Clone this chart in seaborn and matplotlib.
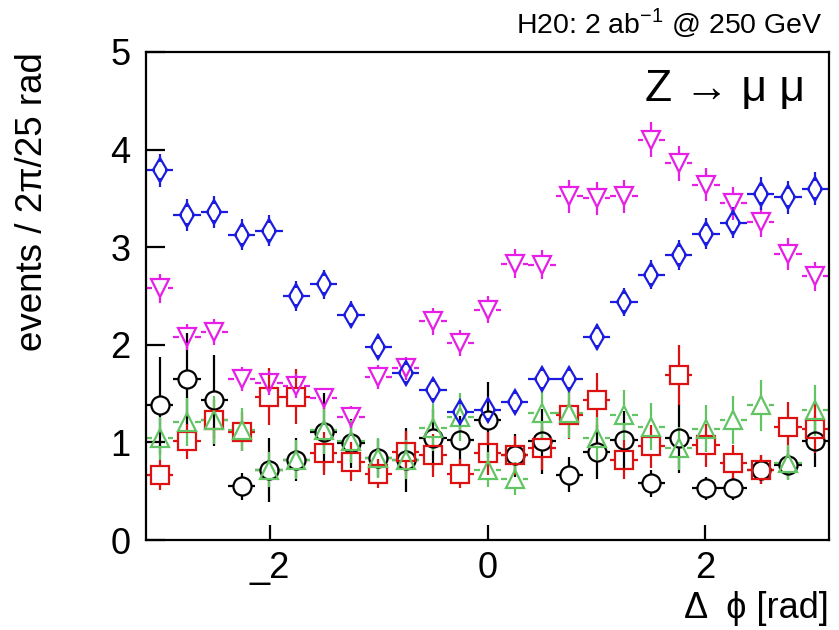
import numpy as np
import matplotlib
matplotlib.use("Agg")
import matplotlib.pyplot as plt
import seaborn as sns

# ---------------- data ----------------
n_bins = 25
x_lo, x_hi = -np.pi, np.pi

blue_val = [3.79, 3.33, 3.36, 3.13, 3.17, 2.50, 2.62, 2.31, 1.98, 1.71, 1.54, 1.31, 1.33,
            1.41, 1.65, 1.65, 2.08, 2.44, 2.72, 2.92, 3.14, 3.25, 3.55, 3.51, 3.60]
blue_err = [0.17, 0.16, 0.16, 0.16, 0.16, 0.15, 0.15, 0.14, 0.13, 0.12, 0.12, 0.11, 0.11,
            0.11, 0.12, 0.12, 0.13, 0.14, 0.15, 0.15, 0.16, 0.16, 0.17, 0.17, 0.17]

mag_val = [2.58, 2.08, 2.13, 1.65, 1.61, 1.58, 1.45, 1.26, 1.67, 1.76, 2.24, 2.02, 2.36,
           2.83, 2.82, 3.52, 3.50, 3.52, 4.10, 3.86, 3.64, 3.45, 3.26, 2.93, 2.70]
mag_err = [0.15, 0.13, 0.13, 0.12, 0.12, 0.12, 0.11, 0.11, 0.12, 0.12, 0.14, 0.13, 0.14,
           0.15, 0.15, 0.17, 0.17, 0.17, 0.18, 0.18, 0.17, 0.17, 0.16, 0.16, 0.15]

black_val = [1.38, 1.65, 1.43, 0.55, 0.72, 0.82, 1.11, 0.99, 0.84, 0.82, 1.04, 1.02, 1.23,
             0.87, 1.01, 0.67, 0.90, 1.02, 0.58, 1.04, 0.53, 0.53, 0.72, 0.77, 1.01]
black_err = [0.50, 0.47, 0.47, 0.14, 0.33, 0.22, 0.40, 0.25, 0.19, 0.33, 0.30, 0.25, 0.39,
             0.22, 0.33, 0.18, 0.28, 0.30, 0.14, 0.35, 0.12, 0.12, 0.15, 0.15, 0.26]

red_val = [0.67, 1.01, 1.23, 1.11, 1.47, 1.47, 0.89, 0.80, 0.68, 0.90, 0.87, 0.68, 0.89,
           0.87, 0.94, 1.28, 1.43, 0.82, 0.96, 1.69, 0.97, 0.79, 0.72, 1.16, 1.14]
red_err = [0.16, 0.18, 0.20, 0.20, 0.29, 0.28, 0.22, 0.20, 0.15, 0.22, 0.22, 0.15, 0.22,
           0.20, 0.22, 0.25, 0.28, 0.20, 0.22, 0.31, 0.22, 0.18, 0.15, 0.25, 0.25]

green_val = [1.04, 1.21, 1.23, 1.13, 0.72, 0.82, 1.13, 1.01, 0.84, 0.82, 1.15, 1.26, 0.72,
             0.63, 1.30, 1.30, 1.04, 1.28, 1.16, 0.94, 1.14, 1.23, 1.38, 0.79, 1.33]
green_err = [0.22, 0.25, 0.25, 0.22, 0.18, 0.20, 0.25, 0.22, 0.20, 0.20, 0.24, 0.25, 0.18,
             0.17, 0.26, 0.26, 0.22, 0.26, 0.24, 0.22, 0.24, 0.25, 0.26, 0.18, 0.26]

x_ticks = [-2, 0, 2]
x_tick_labels = ["_2", "0", "2"]
y_ticks = [0, 1, 2, 3, 4, 5]

# ---------------- style ----------------
sns.set_theme(style="ticks")
plt.rcParams["font.family"] = ["Liberation Sans", "DejaVu Sans"]
plt.rcParams["mathtext.fontset"] = "custom"
plt.rcParams["mathtext.rm"] = "Liberation Sans"
for k in ["text.color", "axes.labelcolor", "xtick.color", "ytick.color", "axes.edgecolor"]:
    plt.rcParams[k] = "black"

W, H = 839, 630
fig = plt.figure(figsize=(W / 100, H / 100), dpi=100)
ax = fig.add_axes([146 / W, 1 - 540 / H, (829 - 146) / W, (540 - 52) / H])
ax.set_xlim(x_lo, x_hi)
ax.set_ylim(0, 5)

edges = np.linspace(x_lo, x_hi, n_bins + 1)
centers = 0.5 * (edges[:-1] + edges[1:])
half_w = 0.5 * (edges[1] - edges[0])

# data units per pixel
ax_w_px = (829 - 146)
ax_h_px = (540 - 52)
ux = (x_hi - x_lo) / ax_w_px
uy = 5.0 / ax_h_px

series = [
    (black_val, black_err, "o", "#000000", 13, 9, 9),
    (red_val, red_err, "s", "#dd1111", 12.5, 9, 9),
    (green_val, green_err, "^", "#62c462", 13, 8, 8),
    (mag_val, mag_err, "v", "#e61ee6", 13, 8, 8),
    (blue_val, blue_err, "d", "#1c1ce0", 12, 5, 8),
]

for vals, errs, mk, col, ms, gx_px, gy_px in series:
    v = np.array(vals)
    e = np.array(errs)
    gx = gx_px * ux
    gy = gy_px * uy
    up = e > gy
    ax.vlines(centers[up], (v - e)[up], (v - gy)[up], color=col, lw=1.6, zorder=2)
    ax.vlines(centers[up], (v + gy)[up], (v + e)[up], color=col, lw=1.6, zorder=2)
    ax.hlines(v, centers - half_w, centers - gx, color=col, lw=1.6, zorder=2)
    ax.hlines(v, centers + gx, centers + half_w, color=col, lw=1.6, zorder=2)
    sns.lineplot(x=centers, y=v, ax=ax, marker=mk, linestyle="", color=col,
                 markersize=ms, markerfacecolor="none", markeredgecolor=col,
                 markeredgewidth=1.6, zorder=3, legend=False)

# axes styling
for s in ax.spines.values():
    s.set_linewidth(1.6)
    s.set_color("black")
ax.set_xticks(x_ticks)
ax.set_xticklabels(x_tick_labels)
ax.set_yticks(y_ticks)
ax.tick_params(axis="y", direction="in", length=14, width=1.6, labelsize=26, pad=11,
               left=True, colors="black")
ax.tick_params(axis="x", direction="in", length=11, width=1.6, labelsize=26, pad=8,
               bottom=True, colors="black")
ax.minorticks_off()

ax.set_ylabel("events / 2π/25 rad", fontsize=26.5, loc="top", color="black")
ax.yaxis.set_label_coords(-0.14, 1.0)
ax.set_xlabel("Δ  ϕ [rad]", fontsize=26, loc="right", color="black")
ax.xaxis.set_label_coords(1.0, -0.105)

ax.text(0.965, 0.924, "Z → μ μ", transform=ax.transAxes, ha="right", va="center",
        fontsize=32, color="black")
fig.text(823 / W, 1 - 23 / H, "H20: 2 ab$^{\\mathregular{-1}}$ @ 250 GeV", ha="right",
         va="center", fontsize=20.5, color="black")

fig.savefig("out.png", dpi=100)
